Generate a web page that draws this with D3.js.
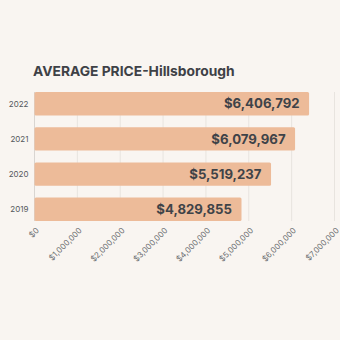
<!DOCTYPE html>
<html>
<head>
<meta charset="utf-8">
<script src="https://cdn.jsdelivr.net/npm/d3@7"></script>
<style>
  body { margin: 0; background: #f9f5f1; }
  svg { display: block; }
</style>
</head>
<body>
<svg id="chart" width="340" height="340"></svg>
<script>
var years = ["2022", "2021", "2020", "2019"];
var prices = [6406792, 6079967, 5519237, 4829855];
var tickValues = [0, 1000000, 2000000, 3000000, 4000000, 5000000, 6000000, 7000000];

var svg = d3.select("#chart");
svg.append("rect").attr("width", 340).attr("height", 340).attr("fill", "#f9f5f1");

var margin = {top: 92, left: 34.5, right: 5.5, bottom: 119};
var width = 340 - margin.left - margin.right,
    height = 340 - margin.top - margin.bottom;

var x = d3.scaleLinear().domain([0, 7000000]).range([0, width]);
var y = d3.scaleBand().domain(years).range([0, height]).paddingInner(0.334).paddingOuter(0);

svg.append("text")
  .attr("x", 33)
  .attr("y", 75.8)
  .attr("font-family", "Inter, 'Open Sans', sans-serif")
  .attr("font-weight", "700")
  .attr("font-size", 13.8)
  .attr("fill", "#3e4146")
  .text("AVERAGE PRICE-Hillsborough");

var g = svg.append("g").attr("transform", "translate(" + margin.left + "," + margin.top + ")");

// grid
g.selectAll(".grid")
  .data(tickValues)
  .enter().append("line")
  .attr("x1", function(d) { return x(d); })
  .attr("x2", function(d) { return x(d); })
  .attr("y1", 0)
  .attr("y2", height)
  .attr("stroke", function(d) { return d === 0 ? "#d9d5d1" : "#e8e4df"; })
  .attr("stroke-width", 1);

// bars
g.selectAll(".bar")
  .data(prices)
  .enter().append("rect")
  .attr("class", "bar")
  .attr("x", 0)
  .attr("y", function(d, i) { return y(years[i]); })
  .attr("width", function(d) { return x(d); })
  .attr("height", y.bandwidth())
  .attr("rx", 1.5)
  .attr("fill", "#edbb99");

// value labels
g.selectAll(".val")
  .data(prices)
  .enter().append("text")
  .attr("x", function(d) { return x(d) - 9.5; })
  .attr("y", function(d, i) { return y(years[i]) + y.bandwidth() / 2; })
  .attr("dy", "0.36em")
  .attr("text-anchor", "end")
  .attr("font-family", "Inter, 'Open Sans', sans-serif")
  .attr("font-weight", "700")
  .attr("font-size", 13.2)
  .attr("fill", "#3f4348")
  .text(function(d) { return "$" + d3.format(",")(d); });

// year labels
g.selectAll(".yr")
  .data(years)
  .enter().append("text")
  .attr("x", -6)
  .attr("y", function(d) { return y(d) + y.bandwidth() / 2; })
  .attr("dy", "0.35em")
  .attr("text-anchor", "end")
  .attr("font-family", "Inter, 'Open Sans', sans-serif")
  .attr("font-size", 8)
  .attr("fill", "#55585c")
  .text(function(d) { return d; });

// x tick labels
g.selectAll(".xt")
  .data(tickValues)
  .enter().append("text")
  .attr("transform", function(d) { return "translate(" + (x(d) + 3) + "," + (height + 8) + ") rotate(-45)"; })
  .attr("dy", "0.35em")
  .attr("text-anchor", "end")
  .attr("font-family", "Inter, 'Open Sans', sans-serif")
  .attr("font-size", 8)
  .attr("fill", "#6a6d70")
  .text(function(d) { return "$" + d3.format(",")(d); });
</script>
</body>
</html>
